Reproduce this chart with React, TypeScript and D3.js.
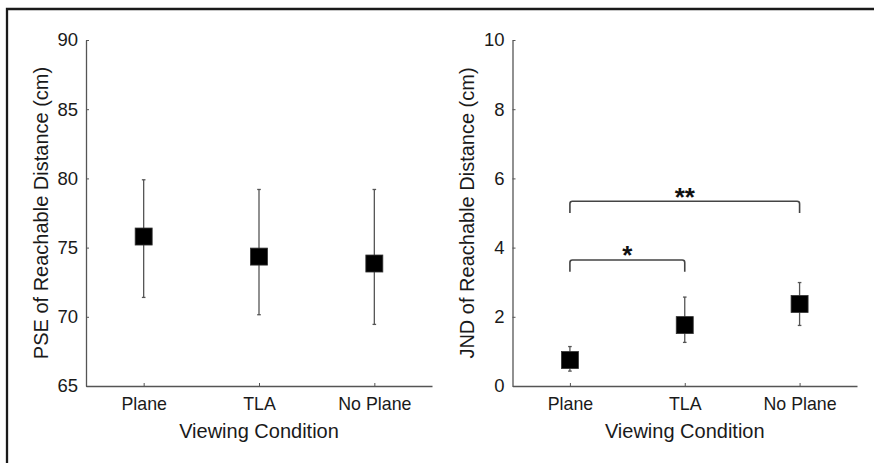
import React, { useEffect, useRef } from 'react';
import * as d3 from 'd3';

const categories = ['Plane', 'TLA', 'No Plane'];

// left panel: PSE
const pseMean = [75.8, 74.35, 73.85];
const pseLower = [71.4, 70.15, 69.45];
const pseUpper = [79.9, 79.2, 79.2];
const pseTicks = [65, 70, 75, 80, 85, 90];

// right panel: JND
const jndMean = [0.75, 1.76, 2.37];
const jndLower = [0.43, 1.26, 1.75];
const jndUpper = [1.14, 2.57, 2.99];
const jndTicks = [0, 2, 4, 6, 8, 10];

// significance brackets on the JND panel
const sigFrom = ['Plane', 'Plane'];
const sigTo = ['TLA', 'No Plane'];
const sigTop = [3.64, 5.34];
const sigLeg = [3.3, 5.0];
const sigLabel = ['*', '**'];

const W = 874;
const H = 463;
const FONT = '"Liberation Sans", Arial, sans-serif';
const AXIS_COLOR = '#555';
const TEXT_COLOR = '#1a1a1a';

const drawPanel = (svg, opts) => {
  const { x0, x1, domain, ticks, mean, lower, upper, yLabel, labelX } = opts;
  const top = 40;
  const bottom = 386;

  const x = d3.scalePoint().domain(categories).range([x0, x1]).padding(0.5);
  const y = d3.scaleLinear().domain(domain).range([bottom, top]);

  const g = svg.append('g');

  const yAxis = g.append('g')
    .attr('transform', `translate(${x0},0)`)
    .call(d3.axisLeft(y).tickValues(ticks).tickSizeInner(-3).tickSizeOuter(0).tickPadding(8));
  const xAxis = g.append('g')
    .attr('transform', `translate(0,${bottom})`)
    .call(d3.axisBottom(x).tickSizeInner(-3).tickSizeOuter(0).tickPadding(11));

  [yAxis, xAxis].forEach(ax => {
    ax.select('.domain').attr('stroke', AXIS_COLOR).attr('stroke-width', 1.3);
    ax.selectAll('.tick line').attr('stroke', AXIS_COLOR).attr('stroke-width', 1);
    ax.selectAll('text').attr('fill', TEXT_COLOR).attr('font-family', FONT);
  });
  yAxis.selectAll('text').attr('font-size', 18.5);
  xAxis.selectAll('text').attr('font-size', 17.8);

  // error bars
  const bars = g.append('g')
    .selectAll('g')
    .data(categories)
    .join('g');
  bars.append('line')
    .attr('x1', d => x(d)).attr('x2', d => x(d))
    .attr('y1', (d, i) => y(lower[i])).attr('y2', (d, i) => y(upper[i]))
    .attr('stroke', AXIS_COLOR).attr('stroke-width', 1.3);
  bars.append('line')
    .attr('x1', d => x(d) - 1.8).attr('x2', d => x(d) + 1.8)
    .attr('y1', (d, i) => y(upper[i])).attr('y2', (d, i) => y(upper[i]))
    .attr('stroke', AXIS_COLOR).attr('stroke-width', 1.3);
  bars.append('line')
    .attr('x1', d => x(d) - 1.8).attr('x2', d => x(d) + 1.8)
    .attr('y1', (d, i) => y(lower[i])).attr('y2', (d, i) => y(lower[i]))
    .attr('stroke', AXIS_COLOR).attr('stroke-width', 1.3);

  // square markers
  const s = 17;
  g.append('g')
    .selectAll('rect')
    .data(categories)
    .join('rect')
      .attr('x', d => x(d) - s / 2)
      .attr('y', (d, i) => y(mean[i]) - s / 2)
      .attr('width', s)
      .attr('height', s)
      .attr('fill', '#000')
      .attr('stroke', '#333')
      .attr('stroke-width', 0.8);

  // axis titles
  g.append('text')
    .attr('transform', `translate(${labelX},${(top + bottom) / 2}) rotate(-90)`)
    .attr('text-anchor', 'middle')
    .attr('dominant-baseline', 'central')
    .attr('font-family', FONT)
    .attr('font-size', 20)
    .attr('fill', TEXT_COLOR)
    .text(yLabel);
  g.append('text')
    .attr('x', (x0 + x1) / 2)
    .attr('y', 438)
    .attr('text-anchor', 'middle')
    .attr('font-family', FONT)
    .attr('font-size', 20)
    .attr('fill', TEXT_COLOR)
    .text('Viewing Condition');

  return { g, x, y };
};

const App = () => {
  const ref = useRef(null);

  useEffect(() => {
    document.body.style.margin = '0';
    const svg = d3.select(ref.current);
    svg.selectAll('*').remove();

    svg.append('rect').attr('width', W).attr('height', H).attr('fill', '#fff');

    // cropped figure frame (only top and left edges visible)
    svg.append('path')
      .attr('d', `M7,${H + 5} L7,9 L${W + 5},9`)
      .attr('fill', 'none')
      .attr('stroke', '#1a1a1a')
      .attr('stroke-width', 2.3);

    drawPanel(svg, {
      x0: 86, x1: 432,
      domain: [65, 90], ticks: pseTicks,
      mean: pseMean, lower: pseLower, upper: pseUpper,
      yLabel: 'PSE of Reachable Distance (cm)', labelX: 41,
    });

    const right = drawPanel(svg, {
      x0: 512.5, x1: 857,
      domain: [0, 10], ticks: jndTicks,
      mean: jndMean, lower: jndLower, upper: jndUpper,
      yLabel: 'JND of Reachable Distance (cm)', labelX: 467,
    });

    const { g, x, y } = right;
    const sig = sigLabel.map((label, i) => ({
      a: x(sigFrom[i]), b: x(sigTo[i]), top: y(sigTop[i]), leg: y(sigLeg[i]), label,
    }));
    const r = 2.5;
    g.append('g')
      .selectAll('path')
      .data(sig)
      .join('path')
        .attr('d', d => `M${d.a},${d.leg} L${d.a},${d.top + r} Q${d.a},${d.top} ${d.a + r},${d.top} L${d.b - r},${d.top} Q${d.b},${d.top} ${d.b},${d.top + r} L${d.b},${d.leg}`)
        .attr('fill', 'none')
        .attr('stroke', '#444')
        .attr('stroke-width', 1.6);
    const fs = 26;
    g.append('g')
      .selectAll('text')
      .data(sig)
      .join('text')
        .attr('x', d => (d.a + d.b) / 2)
        .attr('y', d => d.top - 10.5 + 0.57 * fs)
        .attr('text-anchor', 'middle')
        .attr('font-family', FONT)
        .attr('font-size', fs)
        .attr('font-weight', 'bold')
        .attr('fill', '#111')
        .text(d => d.label);
  }, []);

  return <svg ref={ref} width={W} height={H} style={{ display: 'block' }} />;
};

export default App;
